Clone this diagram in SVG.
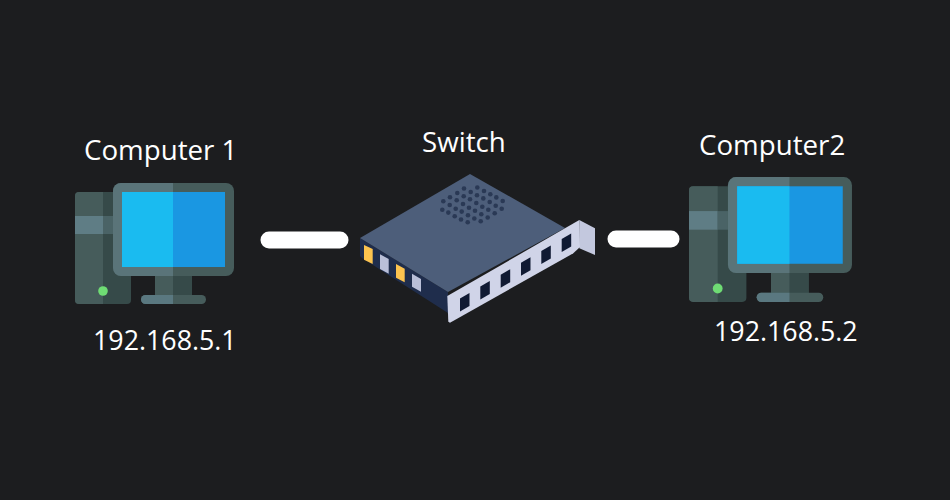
<svg xmlns="http://www.w3.org/2000/svg" width="950" height="500" viewBox="0 0 950 500">
<style>
text{font-family:"Open Sans","Noto Sans","Liberation Sans",sans-serif;fill:#fff}
.lbl{font-size:27.7px}
.ip{font-size:26.8px}
.conn{stroke:#fff;stroke-width:17;stroke-linecap:round;fill:none}
.dots circle{fill:#2a3955}
</style>
<defs>
<g id="pc">
<rect x="0" y="9" width="56" height="112" rx="4" fill="#364a49"/>
<path d="M4 9H28V121H4a4 4 0 0 1-4-4V13a4 4 0 0 1 4-4z" fill="#465c5b"/>
<rect x="0" y="33" width="28" height="18" fill="#5f7d85"/>
<rect x="28" y="33" width="28" height="18" fill="#4a6366"/>
<circle cx="28" cy="108" r="4.8" fill="#6fdc74"/>
<rect x="80" y="92" width="37" height="22" fill="#364a49"/>
<rect x="80" y="92" width="18" height="22" fill="#465c5b"/>
<rect x="66" y="112" width="65" height="9" rx="4.5" fill="#465c5b"/>
<path d="M98 112H70.500a4.500 4.500 0 0 0 0 9H98z" fill="#5a7880"/>
<rect x="38" y="0" width="121" height="93" rx="8" fill="#465c5b"/>
<path d="M46 0H98V93H46a8 8 0 0 1-8-8V8a8 8 0 0 1 8-8z" fill="#5a7479"/>
<rect x="47" y="9" width="103" height="75" fill="#1a97e2"/>
<rect x="47" y="9" width="51" height="75" fill="#1abbf0"/>
</g>
</defs>
<rect width="950" height="500" fill="#1c1d1f"/>
<g id="connectors">
<line class="conn" x1="269" y1="240" x2="340" y2="240"/>
<line class="conn" x1="616" y1="239" x2="671" y2="239"/>
</g>
<g id="computer1">
<use href="#pc" x="75" y="183"/>
<text class="lbl" x="84" y="160">Computer 1</text>
<text class="ip" x="93" y="350">192.168.5.1</text>
</g>
<g id="switch">
<polygon points="360,238 448,292 448,313 362,258 360,256" fill="#1f2d4c"/>
<polygon points="470,174 360,238 448,292 565,228" fill="#4d5e7a"/>
<polygon points="579.300,220 595,228.300 595,255 579.300,248.300" fill="#c3c8de"/>
<polygon points="447.300,296 579.300,220 580,247 573.300,253.300 450,322.700 448.300,321.700" fill="#d0d4e8"/>
<g fill="#101a33">
<polygon points="460,298.500 469.500,293 469.500,306 460,311.500"/>
<polygon points="480.300,286.600 489.800,281.100 489.800,294.100 480.300,299.600"/>
<polygon points="500.700,274.700 510.200,269.200 510.200,282.200 500.700,287.700"/>
<polygon points="521,262.800 530.500,257.300 530.500,270.300 521,275.800"/>
<polygon points="541.300,250.900 550.800,245.400 550.800,258.400 541.300,263.900"/>
<polygon points="561.700,239 571.200,233.500 571.200,246.500 561.700,252"/>
</g>
<polygon points="364,245 372.700,249 372.700,264 364,259.700" fill="#fcc34f"/>
<polygon points="380,254.300 388.700,259 388.700,273.700 380,269" fill="#b9bfd8"/>
<polygon points="396,264 404.700,268.700 404.700,282.300 396,277.700" fill="#fcc34f"/>
<polygon points="412,273.700 421,279 421,291.700 412,286.700" fill="#b9bfd8"/>
<g class="dots">
<circle cx="464" cy="188.500" r="2.300"/><circle cx="477.300" cy="187.500" r="2.300"/>
<circle cx="457.300" cy="193" r="2.300"/><circle cx="470.700" cy="192" r="2.300"/><circle cx="484" cy="191" r="2.300"/>
<circle cx="450" cy="197.300" r="2.300"/><circle cx="463.700" cy="196.200" r="2.300"/><circle cx="477" cy="195.300" r="2.300"/><circle cx="490.300" cy="194.300" r="2.300"/>
<circle cx="443.300" cy="201.300" r="2.300"/><circle cx="456.700" cy="200.300" r="2.300"/><circle cx="470" cy="199.300" r="2.300"/><circle cx="483.300" cy="198.400" r="2.300"/><circle cx="496.300" cy="197.400" r="2.300"/>
<circle cx="449.700" cy="205" r="2.300"/><circle cx="463" cy="204" r="2.300"/><circle cx="476.300" cy="203" r="2.300"/><circle cx="489.700" cy="202" r="2.300"/><circle cx="502.700" cy="201" r="2.300"/>
<circle cx="442.300" cy="209.700" r="2.300"/><circle cx="455.700" cy="208.700" r="2.300"/><circle cx="469" cy="207.700" r="2.300"/><circle cx="482.300" cy="206.800" r="2.300"/><circle cx="495.700" cy="205.800" r="2.300"/>
<circle cx="448.300" cy="212.600" r="2.300"/><circle cx="461.700" cy="211.600" r="2.300"/><circle cx="475" cy="210.700" r="2.300"/><circle cx="488.300" cy="209.700" r="2.300"/><circle cx="501.700" cy="208.700" r="2.300"/>
<circle cx="454.700" cy="216.200" r="2.300"/><circle cx="468" cy="215.200" r="2.300"/><circle cx="481.300" cy="214.300" r="2.300"/><circle cx="494.700" cy="213.200" r="2.300"/>
<circle cx="461" cy="219.500" r="2.300"/><circle cx="474.300" cy="218.500" r="2.300"/><circle cx="487.700" cy="217.500" r="2.300"/>
<circle cx="467.700" cy="222.300" r="2.300"/><circle cx="480.700" cy="221.300" r="2.300"/>
</g>
<text class="lbl" x="422" y="152">Switch</text>
</g>
<g id="computer2">
<use href="#pc" transform="translate(689 177) scale(1.025 1.033)"/>
<text class="lbl" x="699" y="155">Computer2</text>
<text class="ip" x="714" y="341">192.168.5.2</text>
</g>
</svg>
